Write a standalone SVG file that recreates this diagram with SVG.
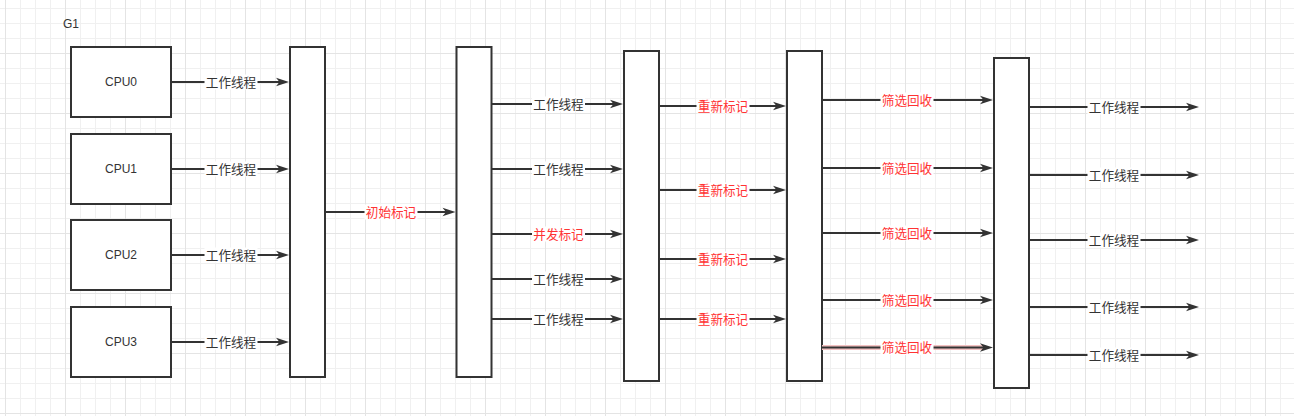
<svg xmlns="http://www.w3.org/2000/svg" width="1294" height="416" viewBox="0 0 1294 416">
<defs>
<pattern id="grid" patternUnits="userSpaceOnUse" x="5" y="-7" width="60" height="60">
<rect x="0" y="0" width="60" height="60" fill="#ffffff"/>
<rect x="15" y="0" width="1" height="60" fill="#f0f0f0"/>
<rect x="30" y="0" width="1" height="60" fill="#f0f0f0"/>
<rect x="45" y="0" width="1" height="60" fill="#f0f0f0"/>
<rect x="0" y="15" width="60" height="1" fill="#f0f0f0"/>
<rect x="0" y="30" width="60" height="1" fill="#f0f0f0"/>
<rect x="0" y="45" width="60" height="1" fill="#f0f0f0"/>
<rect x="0" y="0" width="1" height="60" fill="#e4e4e4"/>
<rect x="0" y="0" width="60" height="1" fill="#e4e4e4"/>
</pattern>
<marker id="arr" markerUnits="userSpaceOnUse" markerWidth="14" markerHeight="10" refX="4" refY="5" orient="auto" overflow="visible">
<path d="M0,0.8 L13,5 L0,9.2 L3.5,5 Z" fill="#333333"/>
</marker>
</defs>
<style>
.box{fill:#ffffff;stroke:#333333;stroke-width:2}
.t{font-family:"Liberation Sans","Noto Sans CJK SC",sans-serif;font-size:12px;fill:#333333;text-anchor:middle}
.lbl{font-family:"Liberation Sans","Noto Sans CJK SC",sans-serif;font-size:12.6px;text-anchor:middle}
.blk{fill:#333333}
.red{fill:#ff3333}
.bg{fill:#ffffff}
.ln{fill:none;stroke:#333333;stroke-width:2;marker-end:url(#arr)}
</style>
<rect x="0" y="0" width="1294" height="416" fill="url(#grid)"/>
<text x="63" y="28" class="t" style="text-anchor:start">G1</text>

<g id="cpu0"><rect class="box" x="71" y="47" width="100" height="70"/><text class="t" x="121" y="86">CPU0</text></g>
<g id="cpu1"><rect class="box" x="71" y="134" width="100" height="70"/><text class="t" x="121" y="173">CPU1</text></g>
<g id="cpu2"><rect class="box" x="71" y="220" width="100" height="70"/><text class="t" x="121" y="259">CPU2</text></g>
<g id="cpu3"><rect class="box" x="71" y="307" width="100" height="70"/><text class="t" x="121" y="346">CPU3</text></g>
<g id="bar1"><rect class="box" x="290" y="47" width="35" height="330"/></g>
<g id="bar2"><rect class="box" x="456.5" y="47" width="35" height="330"/></g>
<g id="bar3"><rect class="box" x="624" y="51" width="35" height="330"/></g>
<g id="bar4"><rect class="box" x="787" y="51" width="35" height="330"/></g>
<g id="bar5"><rect class="box" x="994" y="58" width="35" height="330"/></g>

<g id="connectors">
<path d="M822,347.5 H984" fill="none" stroke="#f3c2c2" stroke-width="5"/>
<path class="ln" d="M171,82 H280"/>
<path class="ln" d="M171,169 H280"/>
<path class="ln" d="M171,255 H280"/>
<path class="ln" d="M171,342 H280"/>
<path class="ln" d="M325,212 H446.5"/>
<path class="ln" d="M491.5,104 H614"/>
<path class="ln" d="M491.5,169 H614"/>
<path class="ln" d="M491.5,234 H614"/>
<path class="ln" d="M491.5,279 H614"/>
<path class="ln" d="M491.5,319 H614"/>
<path class="ln" d="M659,106 H777"/>
<path class="ln" d="M659,190 H777"/>
<path class="ln" d="M659,259 H777"/>
<path class="ln" d="M659,319 H777"/>
<path class="ln" d="M822,100 H984"/>
<path class="ln" d="M822,168 H984"/>
<path class="ln" d="M822,233 H984"/>
<path class="ln" d="M822,300 H984"/>
<path class="ln" d="M822,347.5 H984"/>
<path class="ln" d="M1029,107 H1190"/>
<path class="ln" d="M1029,175 H1190"/>
<path class="ln" d="M1029,240 H1190"/>
<path class="ln" d="M1029,307 H1190"/>
<path class="ln" d="M1029,355 H1190"/>

<g class="lbl">
<rect class="bg" x="204.5" y="74.5" width="53" height="15"/><text x="231" y="86.5" class="blk">工作线程</text>
<rect class="bg" x="204.5" y="161.5" width="53" height="15"/><text x="231" y="173.5" class="blk">工作线程</text>
<rect class="bg" x="204.5" y="247.5" width="53" height="15"/><text x="231" y="259.5" class="blk">工作线程</text>
<rect class="bg" x="204.5" y="334.5" width="53" height="15"/><text x="231" y="346.5" class="blk">工作线程</text>
<rect class="bg" x="532" y="96.5" width="53" height="15"/><text x="558.5" y="108.5" class="blk">工作线程</text>
<rect class="bg" x="532" y="161.5" width="53" height="15"/><text x="558.5" y="173.5" class="blk">工作线程</text>
<rect class="bg" x="532" y="271.5" width="53" height="15"/><text x="558.5" y="283.5" class="blk">工作线程</text>
<rect class="bg" x="532" y="311.5" width="53" height="15"/><text x="558.5" y="323.5" class="blk">工作线程</text>
<rect class="bg" x="1087.5" y="99.5" width="53" height="15"/><text x="1114" y="111.5" class="blk">工作线程</text>
<rect class="bg" x="1087.5" y="167.5" width="53" height="15"/><text x="1114" y="179.5" class="blk">工作线程</text>
<rect class="bg" x="1087.5" y="232.5" width="53" height="15"/><text x="1114" y="244.5" class="blk">工作线程</text>
<rect class="bg" x="1087.5" y="299.5" width="53" height="15"/><text x="1114" y="311.5" class="blk">工作线程</text>
<rect class="bg" x="1087.5" y="347.5" width="53" height="15"/><text x="1114" y="359.5" class="blk">工作线程</text>
<rect class="bg" x="364.5" y="204.5" width="53" height="15"/><text x="391" y="216.5" class="red">初始标记</text>
<rect class="bg" x="532" y="226.5" width="53" height="15"/><text x="558.5" y="238.5" class="red">并发标记</text>
<rect class="bg" x="696.5" y="98.5" width="53" height="15"/><text x="723" y="110.5" class="red">重新标记</text>
<rect class="bg" x="696.5" y="182.5" width="53" height="15"/><text x="723" y="194.5" class="red">重新标记</text>
<rect class="bg" x="696.5" y="251.5" width="53" height="15"/><text x="723" y="263.5" class="red">重新标记</text>
<rect class="bg" x="696.5" y="311.5" width="53" height="15"/><text x="723" y="323.5" class="red">重新标记</text>
<rect class="bg" x="880.5" y="92.5" width="53" height="15"/><text x="907" y="104.5" class="red">筛选回收</text>
<rect class="bg" x="880.5" y="160.5" width="53" height="15"/><text x="907" y="172.5" class="red">筛选回收</text>
<rect class="bg" x="880.5" y="225.5" width="53" height="15"/><text x="907" y="237.5" class="red">筛选回收</text>
<rect class="bg" x="880.5" y="292.5" width="53" height="15"/><text x="907" y="304.5" class="red">筛选回收</text>
<rect class="bg" x="880.5" y="340" width="53" height="15"/><text x="907" y="352" class="red">筛选回收</text>
</g>
</g>
</svg>
